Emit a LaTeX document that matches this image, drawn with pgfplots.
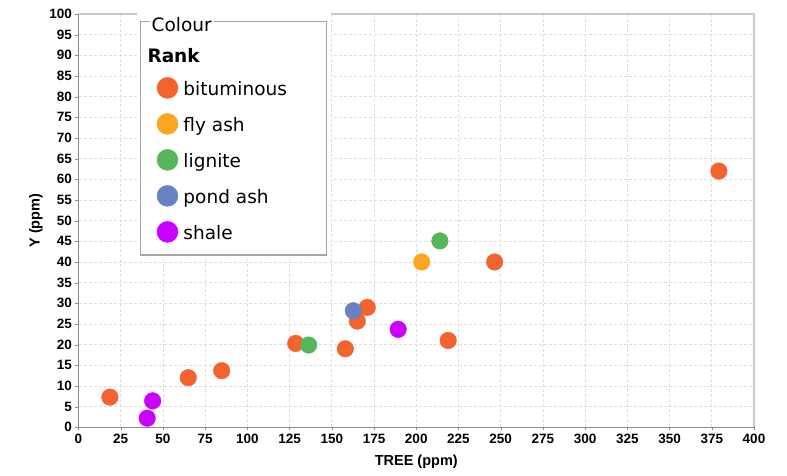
\documentclass[border=0pt]{standalone}
\usepackage{pgfplots}
\pgfplotsset{compat=1.18}
\usepackage{fontspec}
\setmainfont{Liberation Sans}
\newfontfamily\legfont{DejaVu Sans}
\definecolor{bit}{RGB}{242,99,46}
\definecolor{fly}{RGB}{251,166,30}
\definecolor{lig}{RGB}{86,182,90}
\definecolor{pond}{RGB}{103,131,196}
\definecolor{sha}{RGB}{204,0,255}
\definecolor{gridc}{RGB}{222,222,222}
\definecolor{framec}{RGB}{165,165,165}
\newcommand\ls{\rule[-12bp]{0pt}{36bp}}
\newcommand\lf{\legfont\fontsize{18.5bp}{22bp}\selectfont}
\newcommand\labf{\bfseries\fontsize{14.5bp}{17bp}\selectfont}
\pgfplotsset{
  mymark/.style={only marks, mark=*, mark size=8.3bp, color=#1,
    mark options={draw=none, fill=#1},
    legend image code/.code={\draw[##1, mark size=10.5bp] plot coordinates {(0bp,8bp)};
      \path[draw=none, fill=none] (-11bp,-12bp) rectangle (11bp,24bp);}},
}
\begin{document}
\begin{tikzpicture}
\begin{axis}[
  set layers,
  scale only axis,
  width=675.5bp, height=413.3bp,
  at={(0,0)}, anchor=south west,
  xmin=0, xmax=400, ymin=0, ymax=100,
  xtick={0,25,...,400}, ytick={0,5,...,100},
  axis lines=left,
  axis line style={-, color={rgb,255:red,140;green,140;blue,140}, line width=1.2bp},
  tick align=outside, major tick length=3bp,
  major tick style={color={rgb,255:red,140;green,140;blue,140}},
  grid=major,
  grid style={color=gridc, line width=0.8bp, dash pattern=on 3bp off 2bp},
  /pgf/number format/assume math mode=true,
  tick label style={font=\bfseries\fontsize{13.5bp}{16bp}\selectfont},
  xlabel={TREE (ppm)}, ylabel={Y (ppm)},
  every axis x label/.style={at={(rel axis cs:0.5,0)}, yshift=-37.7bp, anchor=base, font=\labf},
  every axis y label/.style={at={(rel axis cs:0,0.5)}, xshift=-42.5bp, rotate=90, anchor=center, font=\labf},
  clip=false,
  legend style={at={(rel axis cs:0.11518,0.8604)}, anchor=north west, draw=none, fill=none,
    inner sep=0pt, row sep=0pt, font=\lf, cells={anchor=base west},
    nodes={inner xsep=5bp, inner ysep=0pt}},
]
\addplot[mymark=bit] coordinates {
 (18.6,7.3) (65.0,12.0) (84.8,13.7) (128.6,20.3) (158.0,19.0)
 (165.1,25.7) (171.0,29.0) (218.9,21.0) (246.4,40.0) (379.2,62.0)};
\addlegendentry{\ls bituminous}
\addplot[mymark=fly] coordinates {(203.2,40.0)};
\addlegendentry{\ls fly ash}
\addplot[mymark=lig] coordinates {(136.3,19.9) (214.0,45.1)};
\addlegendentry{\ls lignite}
\addplot[mymark=pond] coordinates {(162.7,28.2)};
\addlegendentry{\ls pond ash}
\addplot[mymark=sha] coordinates {(40.7,2.2) (43.9,6.4) (189.3,23.7)};
\addlegendentry{\ls shale}
\draw[color={rgb,255:red,200;green,200;blue,200}, line width=1.2bp]
  (rel axis cs:0,1) -- (rel axis cs:1,1) -- (rel axis cs:1,0);
\fill[white] (axis cs:34.46,40.72) rectangle (axis cs:149.5,101.45);
\draw[framec, line width=1.3bp] (axis cs:36.83,41.69) rectangle (axis cs:146.97,98.14);
\node[anchor=base west, fill=white, inner xsep=2bp, inner ysep=1bp, font=\lf] at (axis cs:42.04,95.72) {Colour};
\node[anchor=base west, inner sep=0pt, font=\lf\bfseries] at (axis cs:40.75,88.22) {Rank};
\end{axis}
\pgfresetboundingbox
\path[use as bounding box] (-78.5bp,-48.7bp) rectangle (708.5bp,427.3bp);
\end{tikzpicture}
\end{document}
